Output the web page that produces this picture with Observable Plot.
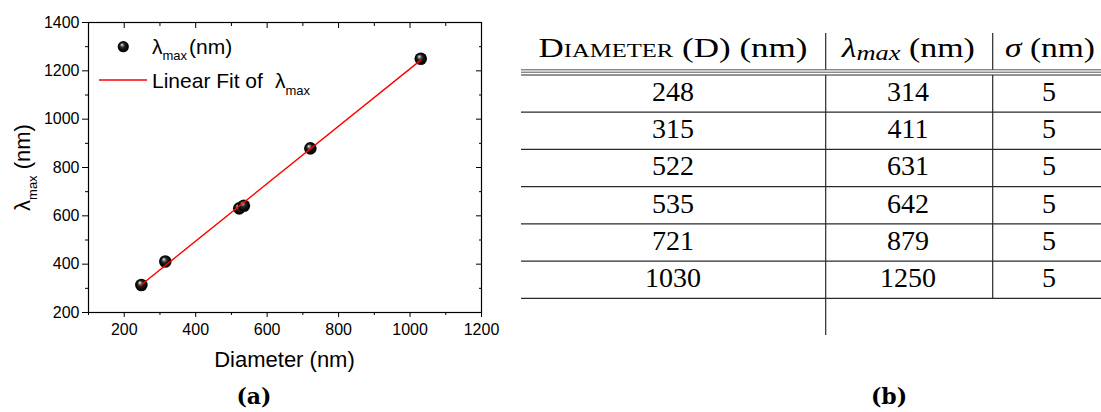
<!DOCTYPE html>
<html>
<head>
<meta charset="utf-8">
<script src="https://cdn.jsdelivr.net/npm/d3@7"></script>
<script src="https://cdn.jsdelivr.net/npm/@observablehq/plot@0.6"></script>
<style>
  html, body { margin: 0; padding: 0; background: #fff; }
  #page { position: relative; width: 1101px; height: 412px; overflow: hidden; }
  #chart { position: absolute; left: 0; top: 0; }
  #table { position: absolute; left: 500px; top: 0; }
  .caption {
    position: absolute; top: 385px; width: 200px; text-align: center;
    font-family: "DejaVu Serif", serif; font-weight: bold; font-size: 22px; line-height: 22px;
  }
</style>
</head>
<body>
<!-- shaded sphere used for the scatter markers -->
<svg width="0" height="0" style="position:absolute">
  <defs>
    <radialGradient id="ball" cx="0.5" cy="0.5" r="0.5" fx="0.36" fy="0.3">
      <stop offset="0" stop-color="#f0f0f0"/>
      <stop offset="0.16" stop-color="#9a9a9a"/>
      <stop offset="0.42" stop-color="#262626"/>
      <stop offset="0.85" stop-color="#000"/>
      <stop offset="1" stop-color="#151515"/>
    </radialGradient>
  </defs>
</svg>
<div id="page">
  <div id="chart"></div>
  <svg id="table" width="601" height="412" viewBox="500 0 601 412"></svg>
  <div class="caption" style="left:154px">(a)</div>
  <div class="caption" style="left:789px">(b)</div>
</div>
<script>
// Measured peak wavelength against particle diameter
const diameter = [248, 315, 522, 535, 721, 1030];
const lambdaMax = [314, 411, 631, 642, 879, 1250];
const sigma = [5, 5, 5, 5, 5, 5];

// Axis ticks
const xMajorTicks = [200, 400, 600, 800, 1000, 1200];
const xMinorTicks = [100, 300, 500, 700, 900, 1100];
const yMajorTicks = [200, 400, 600, 800, 1000, 1200, 1400];
const yMinorTicks = [300, 500, 700, 900, 1100, 1300];

const points = diameter.map((d, i) => ({diameter: d, lambda: lambdaMax[i]}));

// tick-only axes (no labels); mirrored ones are shifted so they point into the frame
const ticksOnlyX = (anchor, ticks, tickSize, dy = 0) =>
  Plot.axisX({anchor, ticks, tickSize, dy, fill: "none", label: null});
const ticksOnlyY = (anchor, ticks, tickSize, dx = 0) =>
  Plot.axisY({anchor, ticks, tickSize, dx, fill: "none", label: null});

const chart = Plot.plot({
  width: 500,
  height: 375,
  marginLeft: 88,
  marginRight: 19,
  marginTop: 22,
  marginBottom: 63,
  style: {fontFamily: "'Liberation Sans', Arial, sans-serif", fontSize: "16px", color: "#000", background: "transparent", overflow: "visible"},
  x: {domain: [100, 1200], label: null},
  y: {domain: [200, 1400], label: null},
  marks: [
    // bottom axis with labels, mirrored inward ticks on top
    Plot.axisX({anchor: "bottom", ticks: xMajorTicks, tickSize: 5, tickPadding: 6, tickFormat: "d", fontSize: 16, label: null}),
    ticksOnlyX("bottom", xMinorTicks, 3),
    ticksOnlyX("top", xMajorTicks, 5, 5),
    ticksOnlyX("top", xMinorTicks, 3, 3),
    // left axis with labels, mirrored inward ticks on the right
    Plot.axisY({anchor: "left", ticks: yMajorTicks, tickSize: 6, tickPadding: 3, tickFormat: "d", fontSize: 16, label: null}),
    ticksOnlyY("left", yMinorTicks, 3),
    ticksOnlyY("right", yMajorTicks, 6, -6),
    ticksOnlyY("right", yMinorTicks, 3, -3),
    Plot.frame({stroke: "#000", strokeWidth: 1.2}),
    Plot.dot(points, {x: "diameter", y: "lambda", r: 6.3, fill: "url(#ball)", stroke: null}),
    Plot.linearRegressionY(points, {x: "diameter", y: "lambda", stroke: "#ff0000", strokeWidth: 1.4, ci: 0})
  ]
});
document.getElementById("chart").appendChild(chart);

// Axis titles and in-frame legend (need subscripts, so built as tspans)
const svg = d3.select(chart);
const sans = "'Liberation Sans', Arial, sans-serif";

svg.append("text")
  .attr("x", 284.5).attr("y", 366.5)
  .attr("text-anchor", "middle")
  .attr("font-family", sans).attr("font-size", 22).attr("fill", "#000")
  .text("Diameter (nm)");

const yTitle = svg.append("text")
  .attr("transform", "translate(30,167.5) rotate(-90)")
  .attr("text-anchor", "middle")
  .attr("font-family", sans).attr("font-size", 22).attr("fill", "#000");
yTitle.append("tspan").text("λ");
yTitle.append("tspan").attr("font-size", 13).attr("dy", 6.5).text("max");
yTitle.append("tspan").attr("dy", -6.5).text(" (nm)");

const legend = svg.append("g")
  .attr("font-family", sans).attr("fill", "#000").attr("text-anchor", "start");
legend.append("circle").attr("cx", 123.3).attr("cy", 46.7).attr("r", 5.6).attr("fill", "url(#ball)");
const l1 = legend.append("text").attr("x", 152).attr("y", 53.5).attr("font-size", 21);
l1.append("tspan").text("λ");
l1.append("tspan").attr("font-size", 13).attr("dy", 6.5).text("max");
l1.append("tspan").attr("dy", -6.5).attr("dx", 2).text("(nm)");
legend.append("line")
  .attr("x1", 99).attr("x2", 147).attr("y1", 80).attr("y2", 80)
  .attr("stroke", "#ff0000").attr("stroke-width", 1.4);
const l2 = legend.append("text").attr("x", 152).attr("y", 88).attr("font-size", 21);
l2.append("tspan").text("Linear Fit of");
l2.append("tspan").attr("x", 275).text("λ");
l2.append("tspan").attr("font-size", 13).attr("dy", 6.5).text("max");

// Data table beside the chart
const tbl = d3.select("#table");
const serif = "'Liberation Serif', 'Times New Roman', serif";
const colEdges = [521, 825.7, 992.7];
const colCenters = [673, 908, 1049];
const lineColor = "#2a2a2a";
const bodyTop = 75;
const rowPitch = 37.22;

// header
const h1 = tbl.append("text").attr("x", colCenters[0]).attr("y", 57.3)
  .attr("text-anchor", "middle").attr("font-family", serif).attr("font-size", 27)
  .attr("textLength", 269).attr("lengthAdjust", "spacingAndGlyphs");
h1.append("tspan").attr("font-variant", "small-caps").text("Diameter");
h1.append("tspan").text(" (D) (nm)");

const h2 = tbl.append("text").attr("x", 908.3).attr("y", 57.3)
  .attr("text-anchor", "middle").attr("font-family", serif).attr("font-size", 27)
  .attr("textLength", 133).attr("lengthAdjust", "spacingAndGlyphs");
h2.append("tspan").attr("font-style", "italic").text("λ");
h2.append("tspan").attr("font-style", "italic").attr("font-size", 21).attr("dy", 3).text("max");
h2.append("tspan").attr("dy", -3).text(" (nm)");

const h3 = tbl.append("text").attr("x", 1050).attr("y", 57.3)
  .attr("text-anchor", "middle").attr("font-family", serif).attr("font-size", 27)
  .attr("textLength", 90).attr("lengthAdjust", "spacingAndGlyphs");
h3.append("tspan").attr("font-style", "italic").text("σ");
h3.append("tspan").text(" (nm)");

// rules
const hline = (y, color, w) => tbl.append("line")
  .attr("x1", colEdges[0]).attr("x2", 1101).attr("y1", y).attr("y2", y)
  .attr("stroke", color).attr("stroke-width", w);
hline(69.8, "#555", 1);
hline(72.2, "#555", 1);
hline(bodyTop, lineColor, 1.2);
const vline = (x, y1, y2) => tbl.append("line")
  .attr("x1", x).attr("x2", x).attr("y1", y1).attr("y2", y2)
  .attr("stroke", lineColor).attr("stroke-width", 1.2);
vline(colEdges[1], 33, 69.8);
vline(colEdges[2], 33, 69.8);

const rows = diameter.map((d, i) => [d, lambdaMax[i], sigma[i]]);
rows.forEach((row, i) => {
  const top = bodyTop + i * rowPitch;
  row.forEach((v, j) => {
    tbl.append("text").attr("x", colCenters[j]).attr("y", top + 26)
      .attr("text-anchor", "middle").attr("font-family", serif).attr("font-size", 28)
      .attr("fill", "#000").text(v);
  });
  hline(top + rowPitch, lineColor, 1.2);
});
const bodyBottom = bodyTop + rows.length * rowPitch;
vline(colEdges[1], bodyTop, bodyBottom + 36.7);
vline(colEdges[2], bodyTop, bodyBottom);
</script>
</body>
</html>
